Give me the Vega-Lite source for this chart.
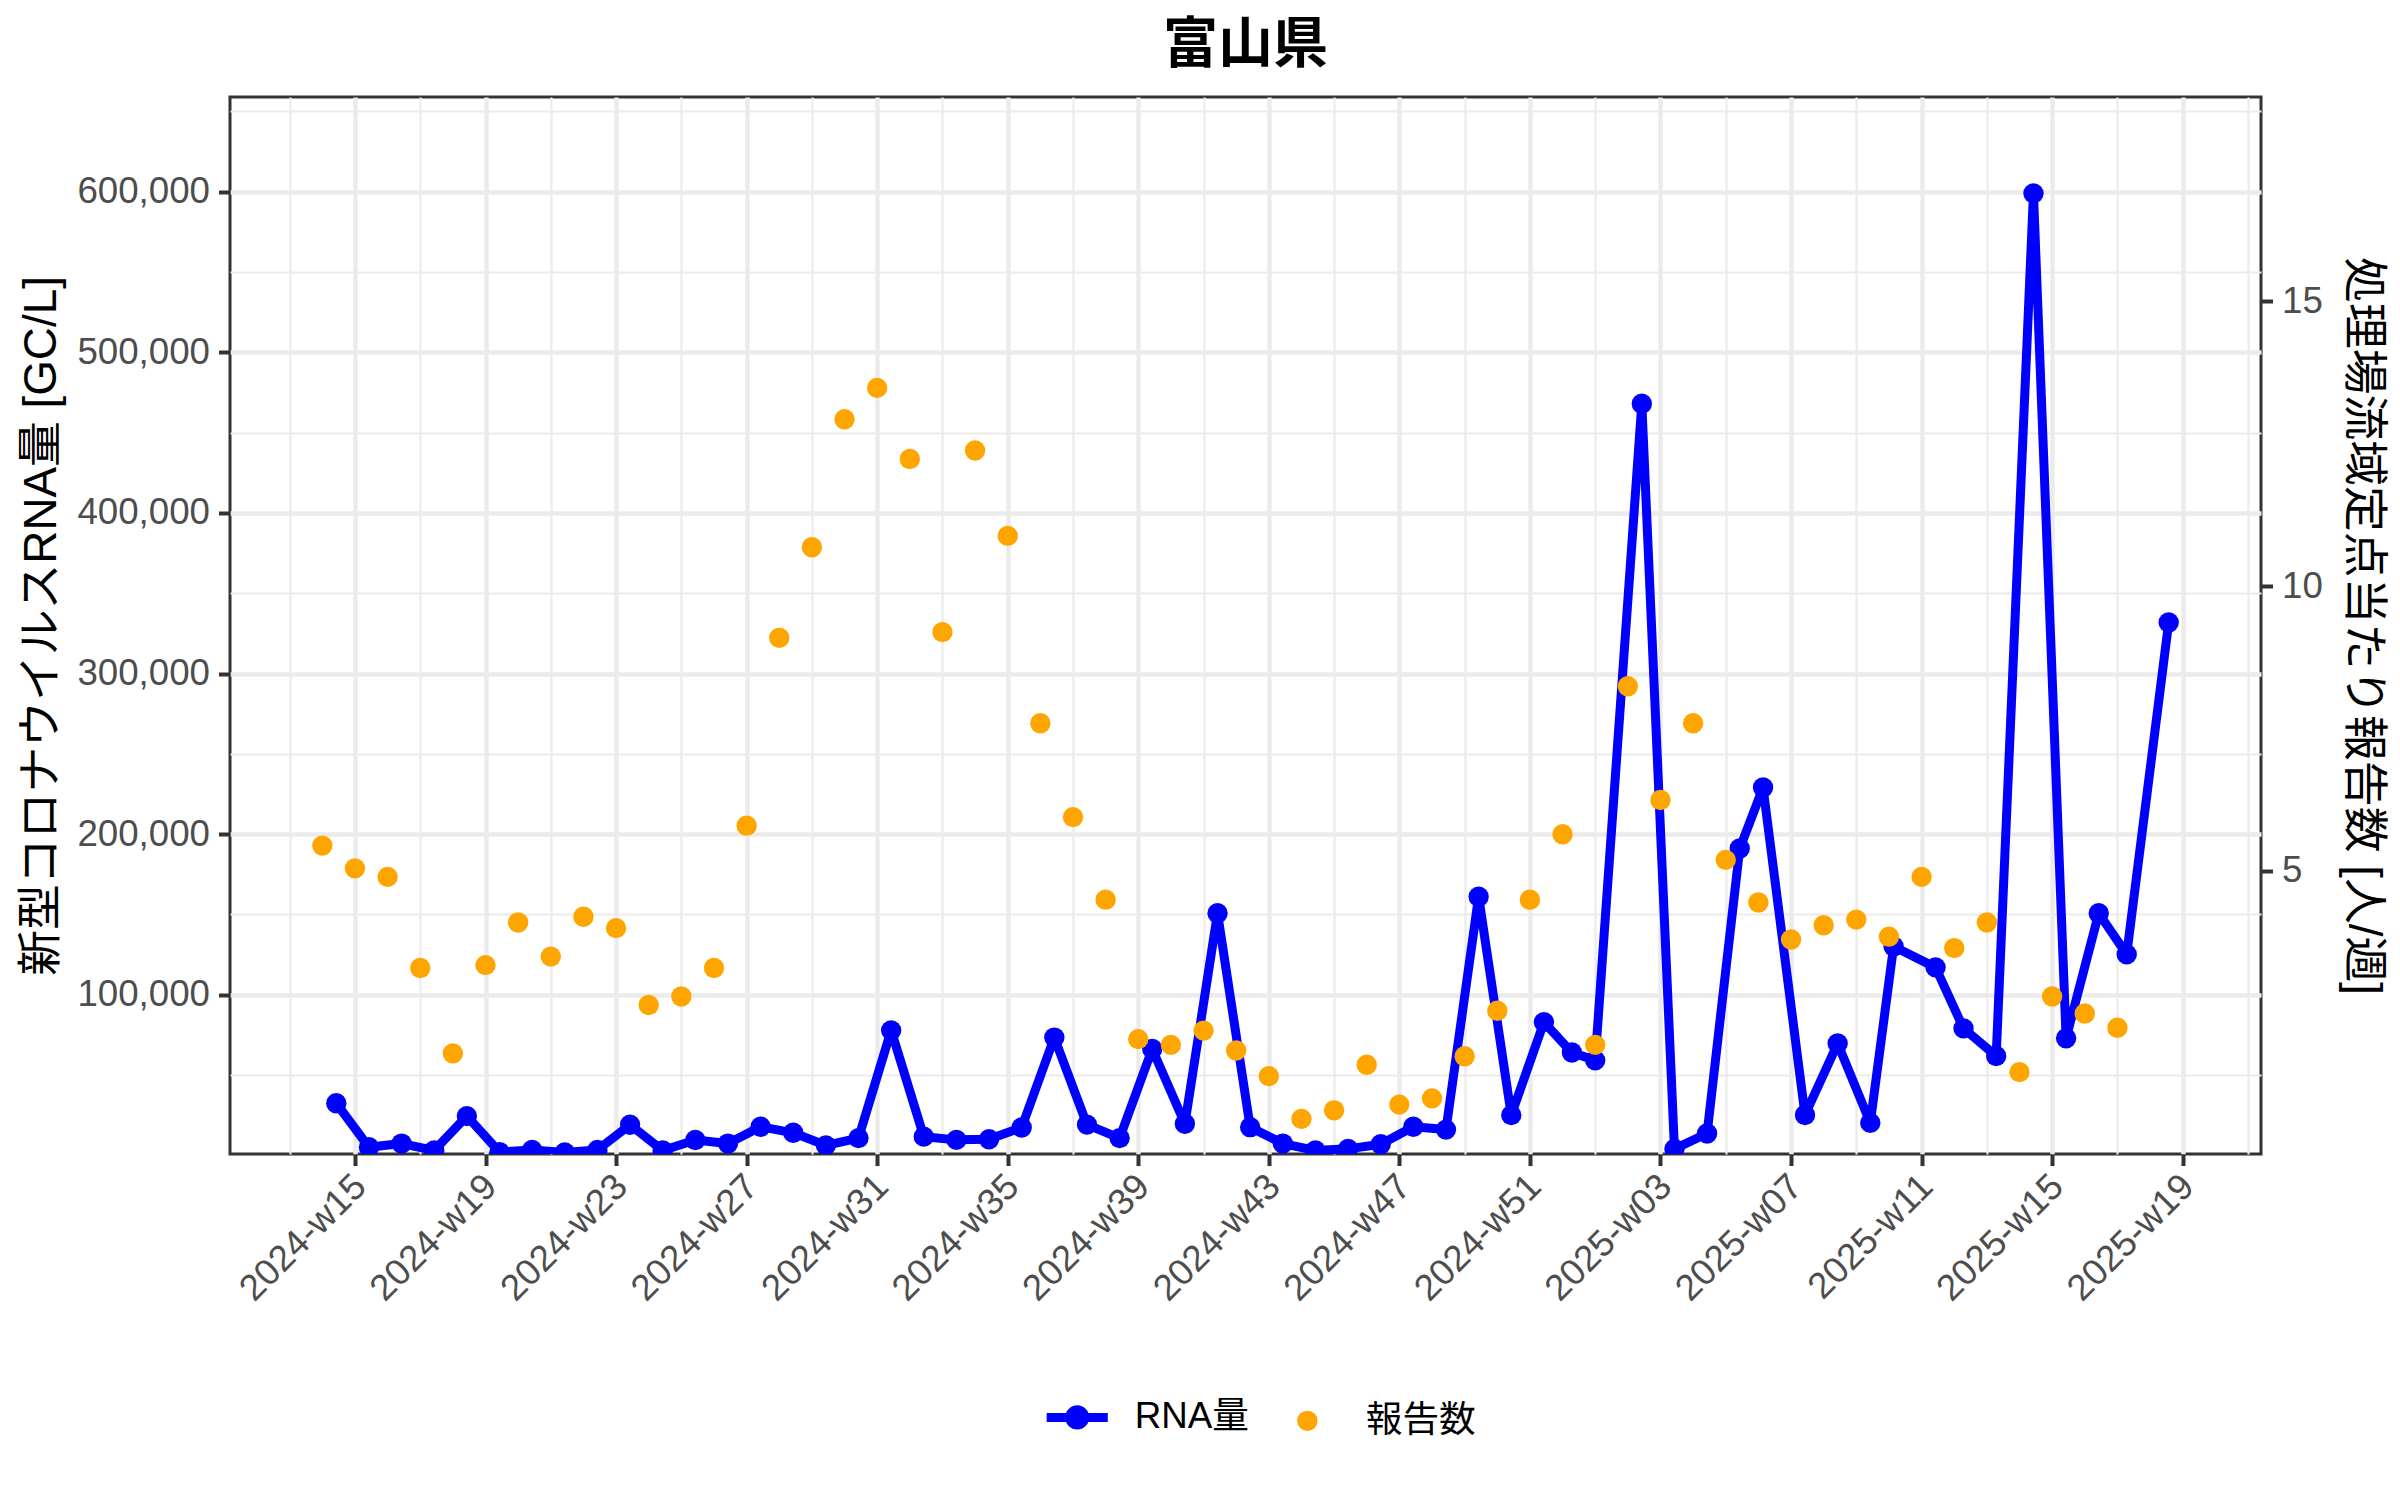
{
  "$schema": "https://vega.github.io/schema/vega-lite/v6.json",
  "width": 2031,
  "height": 1057,
  "autosize": {"type": "none"},
  "padding": {"left": 230, "top": 97, "right": 139, "bottom": 346},
  "background": "white",
  "title": {"text": "富山県", "fontSize": 55, "fontWeight": "bold", "font": "Noto Sans CJK JP", "color": "#000000", "anchor": "middle", "baseline": "alphabetic", "offset": -24},
  "config": {
    "font": "Liberation Sans, Noto Sans CJK JP",
    "view": {"stroke": "#333333", "strokeWidth": 3},
    "axis": {
      "domain": false,
      "tickColor": "#333333",
      "tickWidth": 4,
      "tickSize": 11.5,
      "labelColor": "#4D4D4D",
      "labelFontSize": 36.7,
      "labelFont": "Liberation Sans, Noto Sans CJK JP",
      "labelPadding": 9,
      "titleColor": "#000000",
      "titleFontSize": 45.8,
      "titleFontWeight": "normal",
      "titleFont": "Liberation Sans, Noto Sans CJK JP",
      "gridColor": "#EBEBEB",
      "labelOverlap": false,
      "labelFlush": false
    }
  },
  "datasets": {
    "rna": [
      {"date": "2024-04-04", "rna": 32400},
      {"date": "2024-04-11", "rna": 5000},
      {"date": "2024-04-18", "rna": 7300},
      {"date": "2024-04-25", "rna": 3000},
      {"date": "2024-05-02", "rna": 24400},
      {"date": "2024-05-09", "rna": 2000},
      {"date": "2024-05-16", "rna": 3300},
      {"date": "2024-05-23", "rna": 1800},
      {"date": "2024-05-30", "rna": 3300},
      {"date": "2024-06-06", "rna": 19000},
      {"date": "2024-06-13", "rna": 3000},
      {"date": "2024-06-20", "rna": 9500},
      {"date": "2024-06-27", "rna": 7300},
      {"date": "2024-07-04", "rna": 17800},
      {"date": "2024-07-11", "rna": 14000},
      {"date": "2024-07-18", "rna": 6200},
      {"date": "2024-07-25", "rna": 10700},
      {"date": "2024-08-01", "rna": 77800},
      {"date": "2024-08-08", "rna": 11600},
      {"date": "2024-08-15", "rna": 9600},
      {"date": "2024-08-22", "rna": 10000},
      {"date": "2024-08-29", "rna": 17300},
      {"date": "2024-09-05", "rna": 73300},
      {"date": "2024-09-12", "rna": 19100},
      {"date": "2024-09-19", "rna": 10700},
      {"date": "2024-09-26", "rna": 66200},
      {"date": "2024-10-03", "rna": 19600},
      {"date": "2024-10-10", "rna": 150700},
      {"date": "2024-10-17", "rna": 17500},
      {"date": "2024-10-24", "rna": 7300},
      {"date": "2024-10-31", "rna": 3000},
      {"date": "2024-11-07", "rna": 4000},
      {"date": "2024-11-14", "rna": 6900},
      {"date": "2024-11-21", "rna": 17800},
      {"date": "2024-11-28", "rna": 16000},
      {"date": "2024-12-05", "rna": 161000},
      {"date": "2024-12-12", "rna": 25000},
      {"date": "2024-12-19", "rna": 82900},
      {"date": "2024-12-25", "rna": 64000},
      {"date": "2024-12-30", "rna": 59100},
      {"date": "2025-01-09", "rna": 468000},
      {"date": "2025-01-16", "rna": 4000},
      {"date": "2025-01-23", "rna": 13600},
      {"date": "2025-01-30", "rna": 191000},
      {"date": "2025-02-04", "rna": 229000},
      {"date": "2025-02-13", "rna": 25100},
      {"date": "2025-02-20", "rna": 69600},
      {"date": "2025-02-27", "rna": 20200},
      {"date": "2025-03-04", "rna": 130000},
      {"date": "2025-03-13", "rna": 117000},
      {"date": "2025-03-19", "rna": 79000},
      {"date": "2025-03-26", "rna": 61800},
      {"date": "2025-04-03", "rna": 599000},
      {"date": "2025-04-10", "rna": 72900},
      {"date": "2025-04-17", "rna": 150700},
      {"date": "2025-04-23", "rna": 125100},
      {"date": "2025-05-02", "rna": 331800}
    ],
    "reports": [
      {"date": "2024-04-01", "reports": 5.44},
      {"date": "2024-04-08", "reports": 5.04},
      {"date": "2024-04-15", "reports": 4.89},
      {"date": "2024-04-22", "reports": 3.29},
      {"date": "2024-04-29", "reports": 1.79},
      {"date": "2024-05-06", "reports": 3.34},
      {"date": "2024-05-13", "reports": 4.09},
      {"date": "2024-05-20", "reports": 3.49},
      {"date": "2024-05-27", "reports": 4.19},
      {"date": "2024-06-03", "reports": 3.99},
      {"date": "2024-06-10", "reports": 2.64},
      {"date": "2024-06-17", "reports": 2.79},
      {"date": "2024-06-24", "reports": 3.29},
      {"date": "2024-07-01", "reports": 5.79},
      {"date": "2024-07-08", "reports": 9.09},
      {"date": "2024-07-15", "reports": 10.68},
      {"date": "2024-07-22", "reports": 12.93},
      {"date": "2024-07-29", "reports": 13.48},
      {"date": "2024-08-05", "reports": 12.23},
      {"date": "2024-08-12", "reports": 9.19},
      {"date": "2024-08-19", "reports": 12.38},
      {"date": "2024-08-26", "reports": 10.88},
      {"date": "2024-09-02", "reports": 7.59},
      {"date": "2024-09-09", "reports": 5.94},
      {"date": "2024-09-16", "reports": 4.49},
      {"date": "2024-09-23", "reports": 2.04},
      {"date": "2024-09-30", "reports": 1.94},
      {"date": "2024-10-07", "reports": 2.19},
      {"date": "2024-10-14", "reports": 1.84},
      {"date": "2024-10-21", "reports": 1.39},
      {"date": "2024-10-28", "reports": 0.64},
      {"date": "2024-11-04", "reports": 0.79},
      {"date": "2024-11-11", "reports": 1.59},
      {"date": "2024-11-18", "reports": 0.89},
      {"date": "2024-11-25", "reports": 1.0},
      {"date": "2024-12-02", "reports": 1.74},
      {"date": "2024-12-09", "reports": 2.54},
      {"date": "2024-12-16", "reports": 4.49},
      {"date": "2024-12-23", "reports": 5.64},
      {"date": "2024-12-30", "reports": 1.94},
      {"date": "2025-01-06", "reports": 8.24},
      {"date": "2025-01-13", "reports": 6.24},
      {"date": "2025-01-20", "reports": 7.59},
      {"date": "2025-01-27", "reports": 5.19},
      {"date": "2025-02-03", "reports": 4.44},
      {"date": "2025-02-10", "reports": 3.79},
      {"date": "2025-02-17", "reports": 4.04},
      {"date": "2025-02-24", "reports": 4.14},
      {"date": "2025-03-03", "reports": 3.84},
      {"date": "2025-03-10", "reports": 4.89},
      {"date": "2025-03-17", "reports": 3.64},
      {"date": "2025-03-24", "reports": 4.09},
      {"date": "2025-03-31", "reports": 1.46},
      {"date": "2025-04-07", "reports": 2.79},
      {"date": "2025-04-14", "reports": 2.49},
      {"date": "2025-04-21", "reports": 2.24}
    ]
  },
  "resolve": {"scale": {"y": "independent"}},
  "encoding": {
    "x": {
      "field": "date", "type": "temporal",
      "scale": {"type": "utc", "domain": [
        {"year": 2024, "month": 3, "date": 12, "hours": 4, "minutes": 48, "utc": true},
        {"year": 2025, "month": 5, "date": 21, "hours": 19, "minutes": 12, "utc": true}
      ]},
      "title": null,
      "axis": {
        "values": [
          {"year": 2024, "month": 3, "date": 25, "utc": true},
          {"year": 2024, "month": 4, "date": 8, "utc": true},
          {"year": 2024, "month": 4, "date": 22, "utc": true},
          {"year": 2024, "month": 5, "date": 6, "utc": true},
          {"year": 2024, "month": 5, "date": 20, "utc": true},
          {"year": 2024, "month": 6, "date": 3, "utc": true},
          {"year": 2024, "month": 6, "date": 17, "utc": true},
          {"year": 2024, "month": 7, "date": 1, "utc": true},
          {"year": 2024, "month": 7, "date": 15, "utc": true},
          {"year": 2024, "month": 7, "date": 29, "utc": true},
          {"year": 2024, "month": 8, "date": 12, "utc": true},
          {"year": 2024, "month": 8, "date": 26, "utc": true},
          {"year": 2024, "month": 9, "date": 9, "utc": true},
          {"year": 2024, "month": 9, "date": 23, "utc": true},
          {"year": 2024, "month": 10, "date": 7, "utc": true},
          {"year": 2024, "month": 10, "date": 21, "utc": true},
          {"year": 2024, "month": 11, "date": 4, "utc": true},
          {"year": 2024, "month": 11, "date": 18, "utc": true},
          {"year": 2024, "month": 12, "date": 2, "utc": true},
          {"year": 2024, "month": 12, "date": 16, "utc": true},
          {"year": 2024, "month": 12, "date": 30, "utc": true},
          {"year": 2025, "month": 1, "date": 13, "utc": true},
          {"year": 2025, "month": 1, "date": 27, "utc": true},
          {"year": 2025, "month": 2, "date": 10, "utc": true},
          {"year": 2025, "month": 2, "date": 24, "utc": true},
          {"year": 2025, "month": 3, "date": 10, "utc": true},
          {"year": 2025, "month": 3, "date": 24, "utc": true},
          {"year": 2025, "month": 4, "date": 7, "utc": true},
          {"year": 2025, "month": 4, "date": 21, "utc": true},
          {"year": 2025, "month": 5, "date": 5, "utc": true},
          {"year": 2025, "month": 5, "date": 19, "utc": true}
        ],
        "labelExpr": "(abs(round((datum.value - 1712534400000) / 604800000)) % 4 == 0) ? utcFormat(datum.value, '%G-w%V') : ''",
        "labelAngle": -45,
        "labelAlign": "right",
        "labelBaseline": "middle",
        "labelPadding": 15,
        "labelOffset": 5,
        "grid": true,
        "gridWidth": {"condition": {"test": "abs(round((datum.value - 1712534400000) / 604800000)) % 4 == 0", "value": 4.4}, "value": 2.2},
        "tickOpacity": {"condition": {"test": "abs(round((datum.value - 1712534400000) / 604800000)) % 4 == 0", "value": 1}, "value": 0}
      }
    }
  },
  "layer": [
    {
      "data": {"name": "rna"},
      "encoding": {
        "y": {
          "field": "rna", "type": "quantitative",
          "scale": {"domain": [800, 659000], "nice": false, "zero": false},
          "title": "新型コロナウイルスRNA量 [GC/L]",
          "axis": {
            "orient": "left",
            "values": [50000, 100000, 150000, 200000, 250000, 300000, 350000, 400000, 450000, 500000, 550000, 600000, 650000],
            "labelExpr": "datum.value % 100000 == 0 ? format(datum.value, ',') : ''",
            "grid": true,
            "gridWidth": {"condition": {"test": "datum.value % 100000 == 0", "value": 4.4}, "value": 2.2},
            "tickOpacity": {"condition": {"test": "datum.value % 100000 == 0", "value": 1}, "value": 0},
            "titlePadding": 11
          }
        }
      },
      "layer": [
        {
          "mark": {"type": "line", "color": "#0000FF", "strokeWidth": 9, "strokeJoin": "round", "clip": true},
          "encoding": {}
        },
        {
          "mark": {"type": "point", "filled": true, "size": 415, "opacity": 1, "strokeWidth": 0, "clip": true},
          "encoding": {
            "color": {
              "datum": "RNA量",
              "scale": {"domain": ["RNA量", "報告数"], "range": ["#0000FF", "#FFA500"]},
              "legend": {
                "title": null,
                "orient": "none",
                "direction": "horizontal",
                "legendX": 835,
                "legendY": 1302,
                "symbolSize": 415,
                "labelFontSize": 36.7,
                "labelColor": "#000000",
                "labelFont": "Liberation Sans, Noto Sans CJK JP",
                "labelOffset": 33,
                "columnPadding": 40,
                "symbolOpacity": 1,
                "encode": {
                  "symbols": {
                    "update": {
                      "shape": {"signal": "datum.value === 'RNA量' ? 'M-3.6,0L2.4,0M-1.34,0A0.74,0.74,0,1,1,0.14,0A0.74,0.74,0,1,1,-1.34,0Z' : 'circle'"},
                      "fill": {"signal": "datum.value === 'RNA量' ? '#0000FF' : '#FFA500'"},
                      "stroke": {"signal": "datum.value === 'RNA量' ? '#0000FF' : '#FFA500'"},
                      "strokeWidth": {"signal": "datum.value === 'RNA量' ? 9 : 0"},
                      "opacity": {"value": 1}
                    }
                  },
                  "labels": {
                    "update": {
                      "dx": {"signal": "datum.value === '報告数' ? 7 : 0"}
                    }
                  }
                }
              }
            }
          }
        }
      ]
    },
    {
      "data": {"name": "reports"},
      "mark": {"type": "point", "filled": true, "size": 415, "opacity": 1, "strokeWidth": 0, "clip": true},
      "encoding": {
        "y": {
          "field": "reports", "type": "quantitative",
          "scale": {"domain": [0.0226, 18.59], "nice": false, "zero": false},
          "title": "処理場流域定点当たり報告数 [人/週]",
          "axis": {"orient": "right", "values": [5, 10, 15], "grid": false, "titlePadding": 16}
        },
        "color": {"datum": "報告数"}
      }
    }
  ]
}
